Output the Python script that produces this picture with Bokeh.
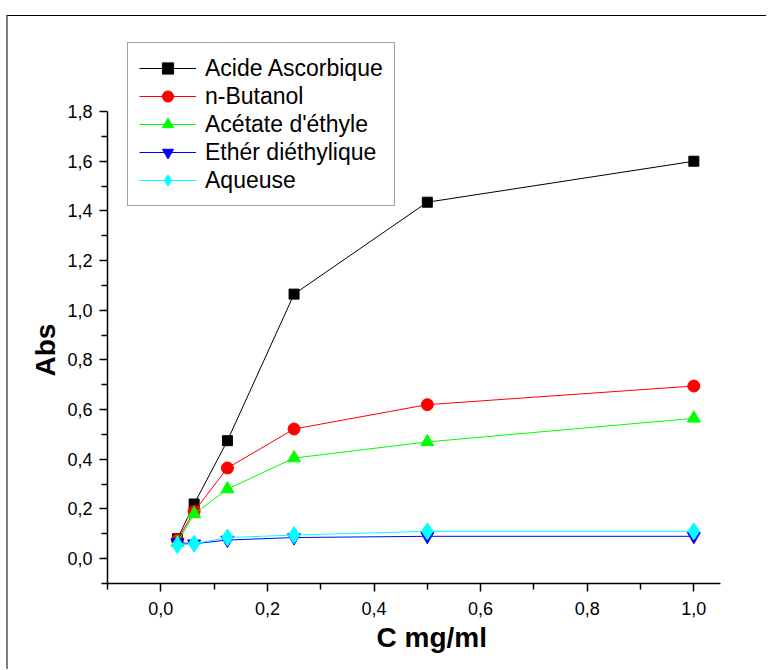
from bokeh.plotting import figure
from bokeh.models import Range1d, FixedTicker, CustomJSTickFormatter, Title
from bokeh.embed import file_html
from bokeh.resources import INLINE

# ---- data ----
conc = [0.03125, 0.0625, 0.125, 0.25, 0.5, 1.0]
acide_ascorbique = [0.08, 0.22, 0.475, 1.065, 1.435, 1.60]
n_butanol = [0.075, 0.19, 0.365, 0.522, 0.62, 0.695]
acetate_ethyle = [0.065, 0.18, 0.28, 0.405, 0.47, 0.565]
ether_diethylique = [0.065, 0.06, 0.075, 0.085, 0.09, 0.09]
aqueuse = [0.055, 0.06, 0.085, 0.095, 0.11, 0.11]

series_names = ["Acide Ascorbique", "n-Butanol", "Acétate d'éthyle",
                "Ethér diéthylique", "Aqueuse"]
series_values = [acide_ascorbique, n_butanol, acetate_ethyle,
                 ether_diethylique, aqueuse]
series_colors = ["#000000", "#FF0000", "#00FF00", "#0000FF", "#00FFFF"]
series_markers = ["square", "circle", "triangle", "inverted_triangle", "diamond"]
series_sizes = [10, 12, 13, 13, 17]

x_ticks = [0.0, 0.2, 0.4, 0.6, 0.8, 1.0]
x_minor = [-0.1, 0.1, 0.3, 0.5, 0.7, 0.9]
y_ticks = [0.0, 0.2, 0.4, 0.6, 0.8, 1.0, 1.2, 1.4, 1.6, 1.8]
y_minor = [-0.1, 0.1, 0.3, 0.5, 0.7, 0.9, 1.1, 1.3, 1.5, 1.7]

FONT = "Liberation Sans"

p = figure(width=760, height=654, output_backend="svg", toolbar_location=None,
           x_range=Range1d(-0.1, 1.05), y_range=Range1d(-0.1, 2.078))
p.min_border_left = 99
p.min_border_right = 48
p.min_border_top = 26
p.min_border_bottom = 87
p.outline_line_color = None
p.xgrid.visible = False
p.ygrid.visible = False
p.background_fill_color = "white"
p.border_fill_color = "white"
p.margin = (15, 0, 0, 6)
p.styles = {"border-top": "1px solid #000000", "border-left": "2px solid #808080"}

fmt = CustomJSTickFormatter(code="return tick.toFixed(1).replace('.', ',');")
p.xaxis.ticker = FixedTicker(ticks=x_ticks, minor_ticks=x_minor)
p.yaxis.ticker = FixedTicker(ticks=y_ticks, minor_ticks=y_minor)
p.yaxis.bounds = (-0.1, 1.8)
for ax in (p.xaxis, p.yaxis):
    ax.formatter = fmt
    ax.axis_line_color = "black"
    ax.axis_line_width = 1.5
    ax.major_tick_line_color = "black"
    ax.minor_tick_line_color = "black"
    ax.major_tick_line_width = 1.5
    ax.minor_tick_line_width = 1.5
    ax.major_tick_in = 0
    ax.major_tick_out = 8
    ax.minor_tick_in = 0
    ax.minor_tick_out = 6
    ax.major_label_text_font = FONT
    ax.major_label_text_font_size = "18px"
    ax.major_label_text_color = "black"
p.xaxis.major_label_standoff = 10
p.yaxis.major_label_standoff = 7

# axis titles placed as in the original (y title along the bounded axis)
ytitle = Title(text="Abs", align="left", offset=207, vertical_align="bottom",
               standoff=8, text_font=FONT, text_font_size="28px",
               text_font_style="bold", text_color="black")
p.add_layout(ytitle, "left")
xtitle = Title(text="C mg/ml", align="left", offset=269, vertical_align="bottom",
               standoff=4, text_font=FONT, text_font_size="28px",
               text_font_style="bold", text_color="black")
p.add_layout(xtitle, "below")

for name, vals, col, mk, sz in zip(series_names, series_values, series_colors,
                                    series_markers, series_sizes):
    p.line(conc, vals, line_color=col, line_width=1, legend_label=name)
    p.scatter(conc, vals, marker=mk, size=sz, fill_color=col,
              line_color=col, legend_label=name)

lg = p.legend[0]
lg.location = (20, 377)
lg.padding = 11
lg.spacing = 0
lg.glyph_width = 57
lg.glyph_height = 28
lg.label_height = 28
lg.label_standoff = 9
lg.label_text_font = FONT
lg.label_text_font_size = "23px"
lg.label_text_color = "black"
lg.border_line_color = "#404040"
lg.border_line_width = 1.5
lg.background_fill_color = "white"
lg.background_fill_alpha = 1.0
lg.margin = 0

open("out.html", "w").write(file_html(p, INLINE))
